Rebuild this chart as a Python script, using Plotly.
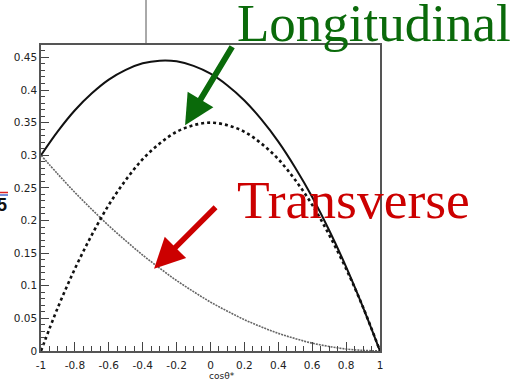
import plotly.graph_objects as go

# cos(theta*) sample points
cos_theta = [-1.0, -0.9, -0.8, -0.7, -0.6, -0.5, -0.4, -0.3, -0.2, -0.1, 0.0,
             0.1, 0.2, 0.3, 0.4, 0.5, 0.6, 0.7, 0.8, 0.9, 1.0]

# total distribution (solid)
total = [0.300, 0.337, 0.369, 0.395, 0.416, 0.431, 0.441, 0.445, 0.444, 0.437, 0.425,
         0.407, 0.384, 0.355, 0.321, 0.281, 0.236, 0.185, 0.129, 0.067, 0.000]

# longitudinal component (dashed)
longitudinal = [0.000, 0.067, 0.126, 0.178, 0.224, 0.262, 0.294, 0.318, 0.336, 0.346, 0.350,
                0.346, 0.336, 0.318, 0.294, 0.262, 0.224, 0.178, 0.126, 0.067, 0.000]

# transverse component (dotted)
transverse = [0.300, 0.271, 0.243, 0.217, 0.192, 0.169, 0.147, 0.127, 0.108, 0.091, 0.075,
              0.061, 0.048, 0.037, 0.027, 0.019, 0.012, 0.007, 0.003, 0.001, 0.000]

x_tickvals = [-1, -0.8, -0.6, -0.4, -0.2, 0, 0.2, 0.4, 0.6, 0.8, 1]
x_ticktext = ["-1", "-0.8", "-0.6", "-0.4", "-0.2", "0", "0.2", "0.4", "0.6", "0.8", "1"]
y_tickvals = [0, 0.05, 0.1, 0.15, 0.2, 0.25, 0.3, 0.35, 0.4, 0.45]
y_ticktext = ["0", "0.05", "0.1", "0.15", "0.2", "0.25", "0.3", "0.35", "0.4", "0.45"]

W, H = 517, 382
L, R, T, B = 41, 380, 45, 351   # plot-area edges in pixels


def px(xp):
    return (xp - L) / (R - L)


def py(yp):
    return (B - yp) / (B - T)


fig = go.Figure()
fig.add_trace(go.Scatter(x=cos_theta, y=transverse, mode="lines", line_shape="spline",
                         line=dict(color="#666666", width=1.6, dash="2px,1px")))
fig.add_trace(go.Scatter(x=cos_theta, y=longitudinal, mode="lines", line_shape="spline",
                         line=dict(color="#111111", width=2.6, dash="3px,3px")))
fig.add_trace(go.Scatter(x=cos_theta, y=total, mode="lines", line_shape="spline",
                         line=dict(color="#111111", width=2)))

tickfont = dict(family="DejaVu Sans", size=10.5, color="#222222")

fig.update_xaxes(range=[-1, 1], tickvals=x_tickvals, ticktext=x_ticktext,
                 ticks="inside", ticklen=9, tickcolor="#444444", tickwidth=1,
                 ticklabelstandoff=4,
                 minor=dict(dtick=0.05, tick0=0, ticks="inside", ticklen=5,
                            tickcolor="#444444", tickwidth=1),
                 showline=True, linecolor="#555555", linewidth=1.5, mirror=True,
                 showgrid=False, zeroline=False, tickfont=tickfont)
fig.update_yaxes(range=[0, 0.469], tickvals=y_tickvals, ticktext=y_ticktext,
                 ticks="inside", ticklen=8, tickcolor="#444444", tickwidth=1,
                 minor=dict(dtick=0.01, tick0=0, ticks="inside", ticklen=4,
                            tickcolor="#444444", tickwidth=1),
                 showline=True, linecolor="#555555", linewidth=1.5, mirror=True,
                 showgrid=False, zeroline=False, tickfont=tickfont)

green = "#0a6a0a"
red = "#cc0000"

annotations = [
    # arrows
    dict(x=-0.150, y=0.346, xref="x", yref="y", text="", showarrow=True,
         ax=48, ay=-80, arrowhead=2, arrowsize=1, arrowwidth=6, arrowcolor=green),
    dict(x=-0.333, y=0.126, xref="x", yref="y", text="", showarrow=True,
         ax=63, ay=-63, arrowhead=2, arrowsize=1.1, arrowwidth=5.5, arrowcolor=red),
    # labels
    dict(x=px(235), y=py(23), xref="paper", yref="paper", text="Longitudinal",
         showarrow=False, xanchor="left", yanchor="middle",
         font=dict(family="Liberation Serif", size=53, color=green)),
    dict(x=px(235), y=py(199.5), xref="paper", yref="paper", text="Transverse",
         showarrow=False, xanchor="left", yanchor="middle",
         font=dict(family="Liberation Serif", size=53.5, color=red)),
    # axis title
    dict(x=px(222), y=py(376), xref="paper", yref="paper", text="cosθ*",
         showarrow=False, xanchor="center", yanchor="middle",
         font=dict(family="DejaVu Sans", size=9, color="#222222")),
    # clipped fragment at the left edge
    dict(x=px(9), y=py(205), xref="paper", yref="paper", text="<b>5</b>",
         showarrow=False, xanchor="right", yanchor="middle",
         font=dict(family="Liberation Sans", size=18, color="#111111")),
]

shapes = [
    dict(type="line", xref="paper", yref="paper", x0=px(146), x1=px(146),
         y0=1, y1=py(0), line=dict(color="#555555", width=1)),
    dict(type="line", xref="paper", yref="paper", x0=px(0), x1=px(8),
         y0=py(192.5), y1=py(192.5), line=dict(color="#dd2222", width=1.5)),
    dict(type="line", xref="paper", yref="paper", x0=px(0), x1=px(8),
         y0=py(195), y1=py(195), line=dict(color="#4466cc", width=1.5)),
]

fig.update_layout(width=W, height=H, margin=dict(l=L, r=W - R, t=T, b=H - B),
                  paper_bgcolor="white", plot_bgcolor="white", showlegend=False,
                  annotations=annotations, shapes=shapes)

fig.write_html("out.html")
